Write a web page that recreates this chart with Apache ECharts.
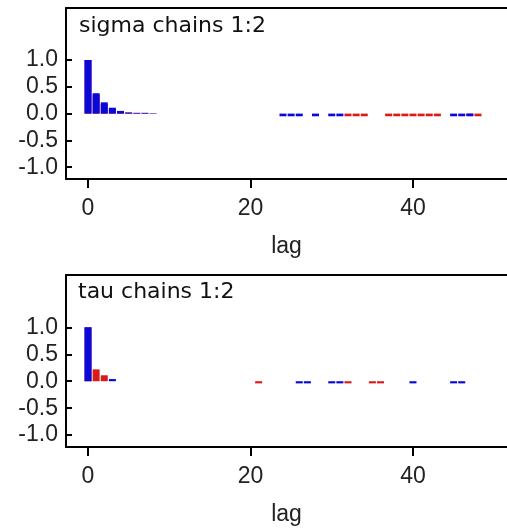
<!DOCTYPE html>
<html>
	<head>
		<meta charset="utf-8">
		<title></title>
		<script src="https://cdn.jsdelivr.net/npm/echarts@6/dist/echarts.min.js" type="text/javascript" charset="utf-8"></script>
		<style>
			html, body { margin: 0; padding: 0; background: #fff; }
		</style>
	</head>
	<body>
		<div id="mainChart" style="width: 507px;height:528px;"></div>
		<script type="text/javascript">
			// lags 0..50
			var lags = [0, 1, 2, 3, 4, 5, 6, 7, 8, 9, 10, 11, 12, 13, 14, 15, 16, 17, 18, 19, 20,
				21, 22, 23, 24, 25, 26, 27, 28, 29, 30, 31, 32, 33, 34, 35, 36, 37, 38, 39, 40,
				41, 42, 43, 44, 45, 46, 47, 48, 49, 50];

			// sigma, chain 1 (blue) and chain 2 (red)
			var sigmaChain1 = [1.0, 0.38, 0.21, 0.11, 0.05, 0.02, 0.015, 0.015, 0.01, 0, 0,
				0, 0, 0, 0, 0, 0, 0, 0, 0, 0,
				0, 0, 0, -0.05, -0.05, -0.05, 0, -0.05, 0, -0.05,
				-0.05, 0, 0, 0, 0, 0, 0, 0, 0, 0,
				0, 0, 0, 0, -0.05, -0.05, -0.05, 0, 0, 0];
			var sigmaChain2 = [1.0, 0.35, 0.18, 0.09, 0.04, 0.02, 0.01, 0.01, 0, 0, 0,
				0, 0, 0, 0, 0, 0, 0, 0, 0, 0,
				0, 0, 0, 0, 0, 0, 0, 0, 0, 0,
				0, -0.05, -0.05, -0.05, 0, 0, -0.05, -0.05, -0.05, -0.05,
				-0.05, -0.05, -0.05, 0, 0, 0, -0.04, -0.05, 0, 0];

			// tau, chain 1 (blue) and chain 2 (red)
			var tauChain1 = [1.0, 0, 0, 0.04, 0, 0, 0, 0, 0, 0, 0,
				0, 0, 0, 0, 0, 0, 0, 0, 0, 0,
				0, 0, 0, 0, 0, -0.04, -0.04, 0, 0, -0.04,
				-0.04, 0, 0, 0, 0, 0, 0, 0, 0, -0.04,
				0, 0, 0, 0, -0.04, -0.04, 0, 0, 0, 0];
			var tauChain2 = [1.0, 0.22, 0.11, 0, 0, 0, 0, 0, 0, 0, 0,
				0, 0, 0, 0, 0, 0, 0, 0, 0, 0,
				-0.04, 0, 0, 0, 0, 0, 0, 0, 0, 0,
				0, -0.04, 0, 0, -0.04, -0.04, 0, 0, 0, 0,
				0, 0, 0, 0, 0, 0, 0, 0, 0, 0];

			var yTicks = [-1, -0.5, 0, 0.5, 1];
			var xTicks = [0, 20, 40];
			var panelTitles = ['sigma chains 1:2', 'tau chains 1:2'];

			var font = '"Liberation Sans", Arial, sans-serif';
			var titleFont = '"DejaVu Sans", Verdana, sans-serif';
			var xMin = -2.71, xMax = 51.57;

			function pairs(vals) {
				var out = [];
				for (var i = 0; i < lags.length; i++) {
					out.push([lags[i], vals[i]]);
				}
				return out;
			}

			function xAxisFor(idx) {
				return {
					type: 'value',
					gridIndex: idx,
					min: xMin,
					max: xMax,
					name: 'lag',
					nameLocation: 'middle',
					nameGap: 56,
					nameTextStyle: { fontSize: 23, color: '#222', fontFamily: font },
					splitLine: { show: false },
					axisLine: { show: true, onZero: false, lineStyle: { color: '#000', width: 2 } },
					axisTick: { show: true, inside: false, length: 9, customValues: xTicks, lineStyle: { color: '#000', width: 2 } },
					axisLabel: { customValues: xTicks, fontSize: 23, color: '#222', margin: 18, fontFamily: font }
				};
			}

			// top edge of the frame, line only
			function topAxisFor(idx) {
				return {
					type: 'value',
					gridIndex: idx,
					position: 'top',
					min: xMin,
					max: xMax,
					splitLine: { show: false },
					axisLine: { show: true, onZero: false, lineStyle: { color: '#000', width: 2 } },
					axisTick: { show: false },
					axisLabel: { show: false }
				};
			}

			function yAxisFor(idx) {
				return {
					type: 'value',
					gridIndex: idx,
					min: -1.22,
					max: 1.97,
					splitLine: { show: false },
					axisLine: { show: true, onZero: false, lineStyle: { color: '#000', width: 2 } },
					axisTick: { show: true, inside: true, length: 6, customValues: yTicks, lineStyle: { color: '#000', width: 2 } },
					axisLabel: {
						customValues: yTicks,
						fontSize: 23,
						color: '#222',
						margin: 8,
						fontFamily: font,
						formatter: function(v) { return v.toFixed(1); }
					}
				};
			}

			function barSeries(idx, vals, color) {
				return {
					type: 'bar',
					xAxisIndex: idx,
					yAxisIndex: idx,
					data: pairs(vals),
					barWidth: 7,
					barGap: '-100%',
					itemStyle: { color: color },
					animation: false
				};
			}

			var dom = document.getElementById("mainChart");
			var myChart = echarts.init(dom);

			var option = {
				backgroundColor: '#fff',
				animation: false,
				title: [{
					text: panelTitles[0],
					left: 74,
					top: 10,
					textStyle: { fontSize: 22, fontWeight: 'normal', color: '#111', fontFamily: titleFont }
				}, {
					text: panelTitles[1],
					left: 73,
					top: 276,
					textStyle: { fontSize: 22, fontWeight: 'normal', color: '#111', fontFamily: titleFont }
				}],
				grid: [
					{ left: 66, top: 8, right: 0, height: 171 },
					{ left: 66, top: 275, right: 0, height: 172 }
				],
				xAxis: [xAxisFor(0), xAxisFor(1), topAxisFor(0), topAxisFor(1)],
				yAxis: [yAxisFor(0), yAxisFor(1)],
				series: [
					barSeries(0, sigmaChain2, '#d81c1c'),
					barSeries(0, sigmaChain1, '#0808dc'),
					barSeries(1, tauChain2, '#d81c1c'),
					barSeries(1, tauChain1, '#0808dc')
				]
			};
			if (option && typeof option === "object") {
				myChart.setOption(option, true);
			}
		</script>
	</body>
</html>
